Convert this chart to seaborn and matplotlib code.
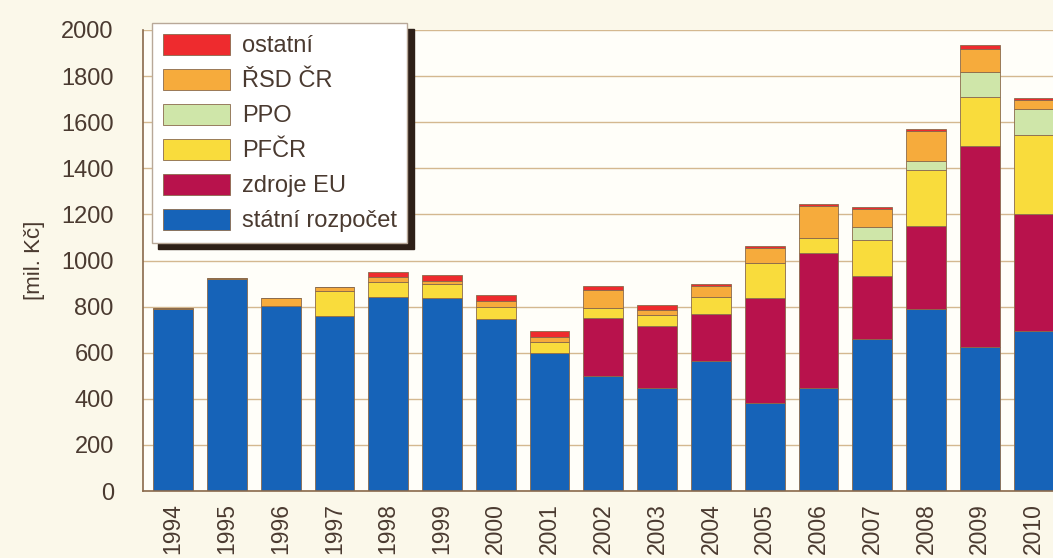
import numpy as np
import pandas as pd
import matplotlib
matplotlib.use("Agg")
import matplotlib.pyplot as plt
from matplotlib.patches import Patch
import seaborn as sns

years = ["1994", "1995", "1996", "1997", "1998", "1999", "2000", "2001", "2002",
         "2003", "2004", "2005", "2006", "2007", "2008", "2009", "2010"]
statni_rozpocet = [790, 920, 802, 760, 842, 836, 745, 600, 500, 445, 563, 383, 445, 660, 788, 626, 694]
zdroje_eu       = [0, 0, 0, 0, 0, 0, 0, 0, 250, 270, 203, 453, 586, 274, 362, 871, 508]
pfcr            = [0, 0, 0, 108, 66, 60, 55, 48, 43, 48, 76, 152, 68, 155, 243, 214, 342]
ppo             = [0, 0, 0, 0, 0, 0, 0, 0, 0, 0, 0, 0, 0, 58, 40, 108, 112]
rsd_cr          = [6, 4, 36, 18, 22, 15, 24, 21, 80, 24, 46, 68, 137, 76, 129, 97, 40]
ostatni         = [0, 0, 0, 0, 21, 24, 26, 25, 17, 22, 12, 8, 9, 10, 8, 19, 10]

series_names = ["státní rozpočet", "zdroje EU", "PFČR", "PPO", "ŘSD ČR", "ostatní"]
series_vals = [statni_rozpocet, zdroje_eu, pfcr, ppo, rsd_cr, ostatni]
colors = ["#1663b8", "#b8124c", "#f9dc3c", "#cfe6a9", "#f6ab3c", "#ee2b2e"]
yticks = [0, 200, 400, 600, 800, 1000, 1200, 1400, 1600, 1800, 2000]

sns.set_theme(style="white")
plt.rcParams["font.family"] = ["Liberation Sans", "DejaVu Sans"]

text_col = "#4a3a30"
line_col = "#8a6a4c"

fig = plt.figure(figsize=(10.53, 5.58), dpi=100, facecolor="#fbf8ea")
ax = fig.add_axes([143 / 1053, 67 / 558, (1053 - 143) / 1053, (491 - 30) / 558])
ax.set_facecolor("#fffef9")

bottom = np.zeros(len(years))
for name, vals, c in zip(series_names, series_vals, colors):
    df = pd.DataFrame({"year": years, "value": vals})
    sns.barplot(data=df, x="year", y="value", order=years, color=c, width=0.74,
                bottom=bottom.copy(), edgecolor=line_col, linewidth=0.6,
                saturation=1, ax=ax, errorbar=None)
    bottom += np.array(vals, dtype=float)

ax.set_xlim(-0.56, 16.36)
ax.set_ylim(0, 2000)
ax.set_yticks(yticks)
ax.set_yticklabels([str(t) for t in yticks], fontsize=17, color=text_col)
ax.set_xticks(range(len(years)))
ax.set_xticklabels(years, rotation=90, fontsize=16.5, color=text_col)
ax.tick_params(axis="y", direction="inout", length=14, width=1, color=line_col, pad=14)
ax.tick_params(axis="x", length=0, pad=9)
ax.set_xlabel("")
ax.set_ylabel("[mil. Kč]", fontsize=16, color=text_col, labelpad=12)
ax.yaxis.grid(True, color="#d4b890", linewidth=1)
ax.set_axisbelow(True)
for s in ["top", "right"]:
    ax.spines[s].set_visible(False)
for s in ["left", "bottom"]:
    ax.spines[s].set_color(line_col)
    ax.spines[s].set_linewidth(1.2)

handles = [Patch(facecolor=c, edgecolor=line_col, linewidth=0.6, label=n)
           for n, c in zip(series_names, colors)][::-1]
leg = fig.legend(handles=handles, loc="upper left",
                 bbox_to_anchor=(152 / 1053, 1 - 23 / 558), borderaxespad=0,
                 fontsize=17, handlelength=2.85, handleheight=1.0,
                 labelspacing=0.48, handletextpad=0.5, borderpad=0.45,
                 frameon=True, fancybox=False, labelcolor=text_col,
                 shadow={"ox": 4.5, "oy": -4.5, "color": "#2e2018", "alpha": 1})
leg.get_frame().set_edgecolor("#b8a898")
leg.get_frame().set_facecolor("white")
leg.get_frame().set_alpha(1)

fig.savefig("out.png", dpi=100, facecolor=fig.get_facecolor())
